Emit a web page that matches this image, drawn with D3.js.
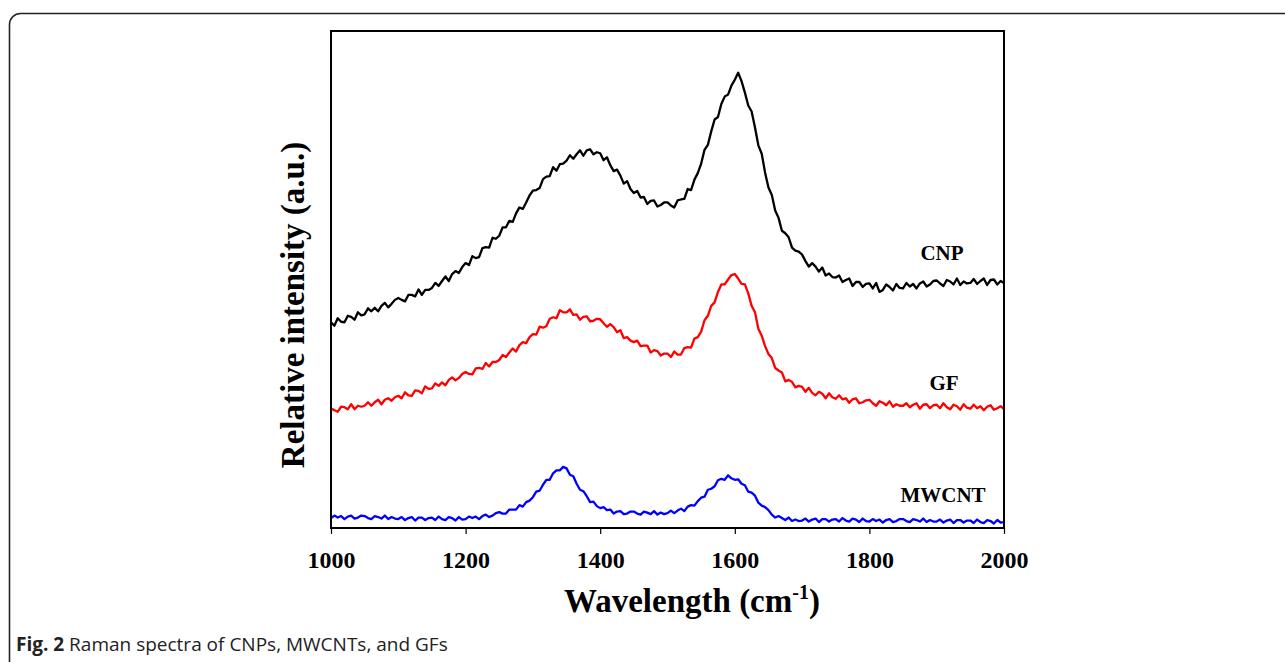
<!DOCTYPE html>
<html>
<head>
<meta charset="utf-8">
<script src="https://cdn.jsdelivr.net/npm/d3@7"></script>
<style>
  body { margin: 0; background: #fff; }
  svg { display: block; }
</style>
</head>
<body>
<figure id="raman" style="margin:0"></figure>
<script>
const wavenumbers = d3.range(1000, 2001, 5);

const cnp = [
  41.4, 40.7, 42.2, 41.5, 41.4, 42.7, 42.5, 41.9, 43.4, 42.8,
  43.0, 44.2, 43.6, 44.3, 43.6, 44.7, 45.3, 44.4, 45.1, 45.9,
  46.3, 45.9, 45.6, 46.9, 46.9, 46.6, 48.0, 46.9, 47.9, 47.9,
  48.3, 49.3, 48.7, 49.7, 50.6, 49.7, 51.1, 51.7, 51.3, 52.5,
  53.3, 52.9, 54.7, 54.3, 54.5, 56.3, 56.5, 56.4, 58.4, 58.2,
  58.8, 60.5, 60.5, 61.8, 61.6, 63.3, 64.5, 64.2, 65.5, 66.9,
  67.9, 68.0, 68.4, 70.2, 70.7, 70.8, 72.6, 71.9, 73.2, 73.3,
  73.9, 75.0, 74.3, 75.2, 76.0, 74.9, 76.0, 76.2, 75.2, 75.6,
  75.4, 74.0, 74.6, 73.0, 71.8, 72.1, 70.9, 69.3, 69.8, 68.2,
  67.4, 67.8, 66.5, 66.6, 65.2, 65.8, 65.9, 64.7, 65.0, 65.5,
  65.5, 64.9, 64.5, 65.9, 66.1, 66.2, 68.2, 68.0, 70.1, 71.4,
  73.3, 76.1, 77.1, 79.8, 82.2, 82.7, 85.3, 86.8, 87.2, 89.0,
  90.2, 91.6, 89.9, 87.6, 85.0, 83.8, 80.6, 77.0, 75.3, 71.5,
  68.5, 67.0, 63.9, 62.4, 59.8, 59.3, 58.5, 56.4, 55.8, 55.6,
  55.0, 53.7, 52.6, 53.3, 52.6, 51.6, 52.4, 50.8, 51.2, 50.5,
  50.4, 50.8, 49.5, 49.9, 50.2, 48.7, 49.5, 49.5, 48.5, 49.1,
  49.2, 48.2, 49.3, 47.5, 47.9, 49.0, 48.5, 47.8, 49.1, 48.3,
  48.2, 49.3, 48.6, 49.1, 48.2, 49.2, 49.6, 48.6, 49.0, 49.7,
  49.8, 49.2, 48.7, 49.9, 49.6, 49.0, 50.2, 48.9, 49.6, 49.2,
  49.3, 50.1, 49.1, 49.7, 50.2, 48.9, 49.9, 50.0, 49.0, 49.7,
  49.3
];

const gf = [
  24.1, 23.7, 23.4, 24.4, 24.3, 23.9, 24.9, 23.9, 24.6, 24.4,
  24.6, 25.3, 24.6, 25.3, 25.8, 24.9, 25.8, 26.1, 25.6, 26.3,
  26.6, 26.1, 27.3, 26.7, 26.6, 27.7, 27.6, 27.1, 28.5, 28.0,
  28.1, 29.1, 28.6, 29.3, 28.7, 29.8, 30.3, 29.7, 30.2, 31.0,
  31.4, 31.0, 30.9, 32.1, 32.2, 32.0, 33.2, 32.5, 33.4, 33.4,
  33.8, 34.8, 34.4, 35.3, 36.1, 35.5, 36.8, 37.4, 37.2, 38.4,
  39.0, 38.9, 40.5, 40.3, 40.6, 42.1, 42.4, 42.2, 43.8, 43.4,
  43.4, 44.0, 42.9, 43.0, 41.9, 42.5, 42.6, 41.6, 41.7, 42.1,
  42.0, 41.2, 40.5, 41.0, 40.4, 39.4, 39.8, 38.2, 38.4, 37.7,
  37.4, 37.7, 36.6, 36.7, 36.7, 35.3, 35.8, 35.6, 34.7, 35.1,
  35.1, 34.4, 35.5, 34.9, 34.9, 36.2, 36.4, 36.3, 38.1, 38.4,
  39.5, 41.8, 42.7, 44.7, 45.4, 47.5, 49.0, 49.0, 50.0, 50.9,
  51.1, 50.2, 49.1, 49.0, 47.2, 44.7, 43.4, 40.1, 38.7, 36.6,
  35.0, 34.2, 32.2, 31.7, 31.3, 29.5, 29.8, 29.4, 28.3, 28.6,
  28.4, 27.4, 28.2, 27.2, 26.7, 27.4, 27.0, 26.1, 27.1, 26.3,
  26.0, 26.7, 25.9, 26.1, 25.2, 25.9, 26.1, 25.1, 25.3, 25.7,
  25.8, 25.1, 24.6, 25.5, 25.2, 24.7, 25.5, 24.4, 24.9, 24.6,
  24.6, 25.1, 24.3, 24.8, 25.1, 24.0, 24.8, 24.9, 24.1, 24.7,
  24.8, 24.1, 25.1, 24.3, 23.9, 24.8, 24.5, 23.8, 24.9, 24.2,
  24.0, 24.8, 24.1, 24.5, 23.7, 24.4, 24.7, 23.8, 24.1, 24.5,
  23.9
];

const mwcnt = [
  2.0, 2.5, 2.1, 2.4, 1.8, 2.3, 2.5, 1.9, 2.1, 2.5,
  2.4, 2.0, 1.8, 2.4, 2.2, 1.9, 2.5, 1.8, 2.2, 1.9,
  1.8, 2.2, 1.6, 2.0, 2.2, 1.5, 2.1, 2.1, 1.6, 2.0,
  2.1, 1.6, 2.3, 1.8, 1.6, 2.2, 2.0, 1.5, 2.2, 1.7,
  1.8, 2.3, 2.0, 2.3, 1.8, 2.4, 2.7, 2.2, 2.5, 3.0,
  3.2, 2.9, 2.9, 3.7, 3.7, 3.7, 4.6, 4.3, 5.2, 5.5,
  6.2, 7.3, 7.5, 8.7, 9.7, 9.7, 11.0, 11.6, 11.6, 12.3,
  12.0, 10.7, 10.4, 8.9, 7.7, 7.4, 6.4, 5.2, 5.3, 4.4,
  4.0, 4.2, 3.6, 3.7, 2.9, 3.3, 3.4, 2.8, 2.9, 3.3,
  3.3, 2.9, 2.7, 3.3, 3.1, 2.8, 3.4, 2.7, 3.1, 2.8,
  3.0, 3.5, 3.0, 3.5, 3.9, 3.4, 4.3, 4.6, 4.5, 5.4,
  6.1, 6.3, 7.7, 7.9, 8.4, 9.6, 9.9, 9.7, 10.6, 10.0,
  9.7, 9.8, 8.9, 8.6, 7.3, 7.1, 6.5, 5.1, 4.5, 4.2,
  3.6, 2.7, 2.1, 2.4, 2.0, 1.6, 2.1, 1.4, 1.7, 1.4,
  1.5, 1.9, 1.3, 1.7, 1.9, 1.2, 1.8, 1.8, 1.3, 1.7,
  1.8, 1.3, 2.0, 1.5, 1.3, 1.9, 1.7, 1.2, 1.9, 1.4,
  1.3, 1.8, 1.4, 1.7, 1.1, 1.6, 1.8, 1.2, 1.4, 1.8,
  1.8, 1.4, 1.2, 1.8, 1.6, 1.3, 1.9, 1.2, 1.6, 1.3,
  1.3, 1.7, 1.1, 1.5, 1.7, 1.0, 1.6, 1.6, 1.1, 1.5,
  1.5, 1.0, 1.7, 1.2, 1.0, 1.6, 1.4, 0.9, 1.6, 1.1,
  1.2
];

const seriesNames = ["CNP", "GF", "MWCNT"];
const xTicks = [1000, 1200, 1400, 1600, 1800, 2000];

const width = 1285;
const height = 662;
const plot = { left: 331, right: 1004, top: 31, bottom: 528 };
const serif = "'Liberation Serif', 'Times New Roman', serif";

const svg = d3.select("figure#raman")
  .append("svg")
  .attr("width", width)
  .attr("height", height);

// outer panel border (runs off the right and bottom of the picture)
svg.append("rect")
  .attr("x", 9.5).attr("y", 13.5)
  .attr("width", 1300).attr("height", 700)
  .attr("rx", 11)
  .attr("fill", "none")
  .attr("stroke", "#222")
  .attr("stroke-width", 1.6);

const x = d3.scaleLinear().domain([1000, 2000]).range([plot.left, plot.right]);
const y = d3.scaleLinear().domain([0, 100]).range([plot.bottom, plot.top]);

const color = d3.scaleOrdinal()
  .domain(seriesNames)
  .range(["#000000", "#ff0000", "#0000ff"]);

const series = [
  { name: "CNP", values: cnp },
  { name: "GF", values: gf },
  { name: "MWCNT", values: mwcnt }
];

const line = d3.line()
  .x((d, i) => x(wavenumbers[i]))
  .y(d => y(d));

svg.append("g")
  .selectAll("path")
  .data(series)
  .enter()
  .append("path")
  .attr("d", d => line(d.values))
  .attr("fill", "none")
  .attr("stroke", d => color(d.name))
  .attr("stroke-width", 2.3)
  .attr("stroke-linejoin", "round");

// plot frame
svg.append("rect")
  .attr("x", plot.left).attr("y", plot.top)
  .attr("width", plot.right - plot.left)
  .attr("height", plot.bottom - plot.top)
  .attr("fill", "none")
  .attr("stroke", "#000")
  .attr("stroke-width", 2);

// bottom axis
const xAxis = svg.append("g")
  .attr("transform", "translate(0," + plot.bottom + ")")
  .call(d3.axisBottom(x).tickValues(xTicks).tickSize(6).tickPadding(17).tickFormat(d3.format("d")));

xAxis.select(".domain").remove();
xAxis.selectAll(".tick line").attr("stroke", "#000").attr("stroke-width", 1.2);
xAxis.selectAll("text")
  .attr("fill", "#000")
  .style("font-family", serif)
  .style("font-weight", "bold")
  .style("font-size", "24px");

// axis titles
const xTitle = svg.append("text")
  .attr("x", 692).attr("y", 612)
  .attr("text-anchor", "middle")
  .style("font-family", serif)
  .style("font-weight", "bold")
  .style("font-size", "33px");
xTitle.append("tspan").text("Wavelength (cm");
xTitle.append("tspan").attr("dy", -13).style("font-size", "20px").text("-1");
xTitle.append("tspan").attr("dy", 13).text(")");

svg.append("text")
  .attr("transform", "translate(304,305) rotate(-90)")
  .attr("text-anchor", "middle")
  .style("font-family", serif)
  .style("font-weight", "bold")
  .style("font-size", "33px")
  .text("Relative intensity (a.u.)");

// series labels
const labelPos = { CNP: [942, 260], GF: [944, 390], MWCNT: [943, 502] };
svg.append("g")
  .selectAll("text")
  .data(seriesNames)
  .enter()
  .append("text")
  .attr("x", d => labelPos[d][0])
  .attr("y", d => labelPos[d][1])
  .attr("text-anchor", "middle")
  .style("font-family", serif)
  .style("font-weight", "bold")
  .style("font-size", "21px")
  .text(d => d);

// caption
const caption = svg.append("text")
  .attr("x", 16).attr("y", 651)
  .style("font-family", "'Open Sans', sans-serif")
  .style("font-size", "19px")
  .attr("fill", "#222");
caption.append("tspan").style("font-weight", "bold").text("Fig. 2");
caption.append("tspan").text(" Raman spectra of CNPs, MWCNTs, and GFs");
</script>
</body>
</html>
